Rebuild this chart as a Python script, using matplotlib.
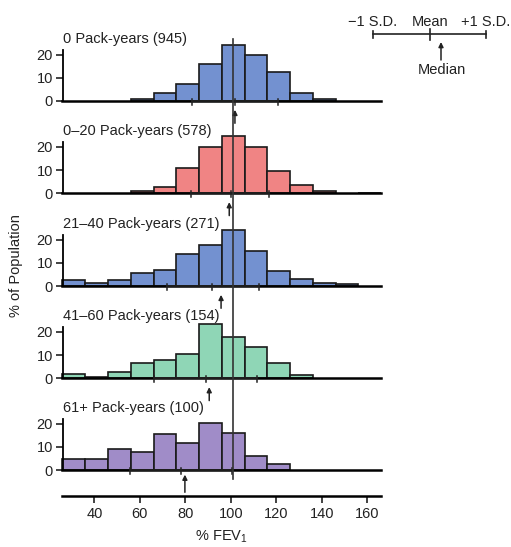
import numpy as np
import matplotlib
matplotlib.use("Agg")
import matplotlib.pyplot as plt
from matplotlib.lines import Line2D
from matplotlib.patches import FancyArrowPatch
from matplotlib.transforms import blended_transform_factory

plt.rcParams['font.family'] = ['Liberation Sans', 'DejaVu Sans']
plt.rcParams['mathtext.fontset'] = 'custom'
plt.rcParams['mathtext.rm'] = 'Liberation Sans'

# bin left edges (% FEV1), 10 wide
bin_left = [26, 36, 46, 56, 66, 76, 86, 96, 106, 116, 126, 136, 146, 156]

titles = ["0 Pack-years (945)", "0\u201320 Pack-years (578)", "21\u201340 Pack-years (271)",
          "41\u201360 Pack-years (154)", "61+ Pack-years (100)"]
heights = [
    [0, 0, 0, 0.8, 3.3, 7.2, 16, 24, 20, 12.6, 3.3, 1.0, 0, 0],
    [0, 0, 0, 1.1, 2.9, 10.7, 19.9, 24.7, 19.9, 9.6, 3.6, 1.1, 0, 0.3],
    [2.6, 1.1, 2.6, 5.7, 7.1, 13.6, 17.6, 24.3, 15, 6.4, 3.1, 1.4, 0.7, 0],
    [1.9, 0.7, 2.7, 6.4, 7.9, 10.4, 23.6, 17.7, 13.6, 6.4, 1.4, 0, 0, 0],
    [4.6, 4.6, 9.1, 7.7, 15.7, 11.7, 20.3, 16, 5.9, 2.6, 0, 0, 0, 0],
]
sd_lo = [83.1, 82.5, 71.8, 66.2, 55.7]
means = [101.8, 100.1, 91.8, 89.1, 78.0]
sd_hi = [120.6, 116.9, 112.4, 111.4, 100.4]
medians = [101.8, 99.3, 95.7, 90.5, 79.8]
colors = ["#7391d0", "#f08484", "#7391d0", "#8fd6b6", "#a08cc8"]

ref_line = 101
xticks = [40, 60, 80, 100, 120, 140, 160]

W, H = 511, 547
fig = plt.figure(figsize=(W / 100, H / 100), dpi=100)

left_px, width_px = 62.5, 318.5
px_per_unit = 2.32
ymax = 30
baselines = [101, 193.3, 286, 378.3, 470]
fs = 10.5
ink = '#222222'

for i in range(5):
    b = baselines[i]
    ax = fig.add_axes([left_px / W, (H - b) / H, width_px / W, ymax * px_per_unit / H])
    ax.patch.set_alpha(0)
    ax.set_xlim(26, 166)
    ax.set_ylim(0, ymax)
    hs = np.array(heights[i])
    keep = hs > 0
    ax.bar(np.array(bin_left)[keep], hs[keep], width=10, align='edge',
           color=colors[i], edgecolor='#1a1a1a', linewidth=1.2, clip_on=False, zorder=2)
    for s in ['top', 'right']:
        ax.spines[s].set_visible(False)
    ax.spines['left'].set_bounds(0, 22)
    ax.spines['left'].set_linewidth(1.3)
    ax.spines['bottom'].set_linewidth(1.8)
    ax.spines['bottom'].set_zorder(3)
    ax.set_xticks([])
    ax.set_yticks([0, 10, 20])
    ax.tick_params(axis='y', length=5, width=1.2, pad=2, labelsize=fs, colors=ink)
    ax.text(26.3, 26.7, titles[i], fontsize=fs, va='center', ha='left', color=ink)
    # -1 SD / mean / +1 SD marks on the baseline
    ax.plot([sd_lo[i], sd_hi[i]], [0, 0], color=ink, lw=1.2, clip_on=False, zorder=4)
    for xv in [sd_lo[i], means[i], sd_hi[i]]:
        ax.plot([xv, xv], [1.0, -1.8], color=ink, lw=1.1, clip_on=False, zorder=4)
    tip = -2.0 if i == 4 else -3.8
    ax.annotate('', xy=(medians[i], tip), xytext=(medians[i], -9.6),
                arrowprops=dict(arrowstyle='-|>', color=ink, lw=1.1, mutation_scale=7,
                                shrinkA=0, shrinkB=0),
                annotation_clip=False)

# bottom x axis
axb = fig.add_axes([left_px / W, (H - 496) / H, width_px / W, 0.001])
axb.patch.set_alpha(0)
axb.set_xlim(26, 166)
for s in ['top', 'right', 'left']:
    axb.spines[s].set_visible(False)
axb.spines['bottom'].set_linewidth(1.8)
axb.set_yticks([])
axb.set_xticks(xticks)
axb.tick_params(axis='x', length=5, width=1.2, pad=3, labelsize=fs, colors=ink)
axb.set_xlabel(r'% FEV$_\mathregular{1}$', fontsize=fs, color=ink, labelpad=5)

# vertical reference line through all panels
tr = blended_transform_factory(axb.transData, fig.transFigure)
fig.add_artist(Line2D([ref_line, ref_line], [(H - 39) / H, (H - 479) / H],
                      transform=tr, color='#333333', lw=1.2, zorder=1))

fig.text(16.5 / W, 1 - 266 / H, '% of Population', rotation=90, fontsize=fs,
         ha='center', va='center', color=ink)


# key in the top right corner
def fx(x):
    return x / W


def fy(y):
    return 1 - y / H


fig.add_artist(Line2D([fx(373), fx(486)], [fy(33.5), fy(33.5)], color=ink, lw=1.2))
for xk, y0, y1 in [(373, 30.5, 37.5), (430, 29, 40), (486, 30.5, 37.5)]:
    fig.add_artist(Line2D([fx(xk), fx(xk)], [fy(y0), fy(y1)], color=ink, lw=1.2))
fig.text(fx(373), fy(21.5), '\u22121 S.D.', fontsize=fs, ha='center', va='center', color=ink)
fig.text(fx(430), fy(21.5), 'Mean', fontsize=fs, ha='center', va='center', color=ink)
fig.text(fx(486), fy(21.5), '+1 S.D.', fontsize=fs, ha='center', va='center', color=ink)
fig.add_artist(FancyArrowPatch(
    (fx(441), fy(60)), (fx(441), fy(42)), transform=fig.transFigure,
    arrowstyle='-|>', mutation_scale=7, color=ink, lw=1.1, shrinkA=0, shrinkB=0))
fig.text(fx(441.5), fy(70), 'Median', fontsize=fs, ha='center', va='center', color=ink)

fig.savefig('out.png', dpi=100)
